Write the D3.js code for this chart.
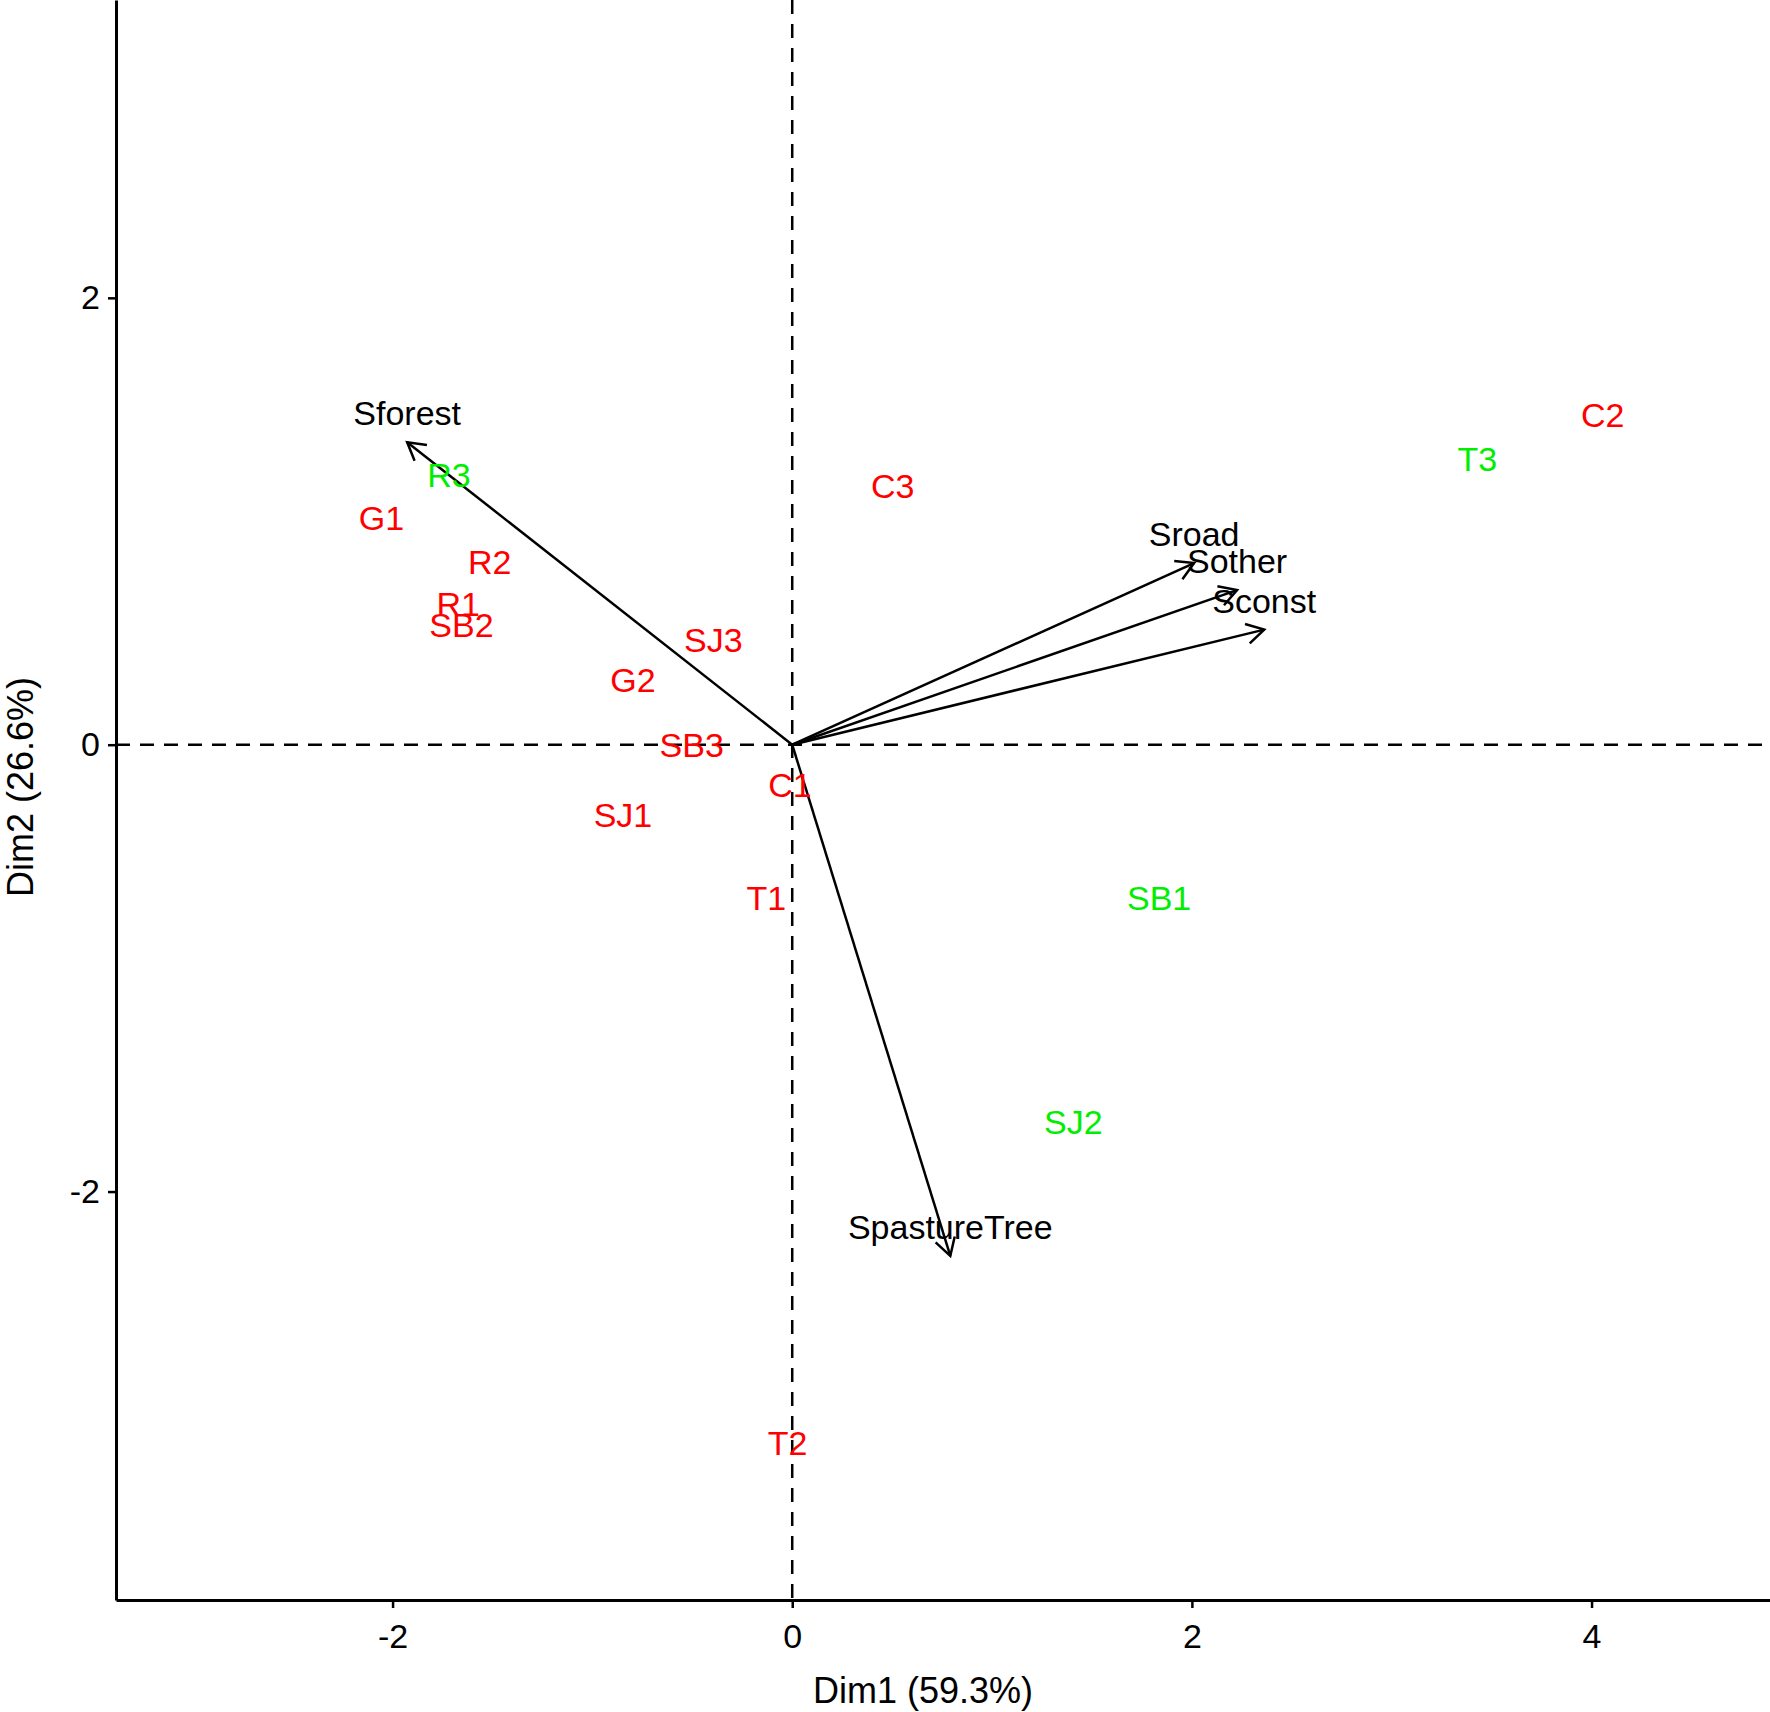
<!DOCTYPE html>
<html><head><meta charset="utf-8">
<script src="https://cdn.jsdelivr.net/npm/d3@7"></script>
<style>body{margin:0;background:#fff}svg{display:block}text{font-family:"Liberation Sans",Arial,sans-serif}</style>
</head><body>
<svg id="c" width="1770" height="1712"></svg>
<script>
// Individuals
const indNames = ["C2","T3","C3","R3","G1","R2","R1","SB2","SJ3","G2","SB3","C1","SJ1","T1","SB1","SJ2","T2"];
const indDim1  = [4.056,3.429,0.503,-1.718,-2.056,-1.514,-1.672,-1.655,-0.395,-0.797,-0.503,-0.011,-0.847,-0.130,1.836,1.407,-0.023];
const indDim2  = [1.475,1.278,1.157,1.207,1.015,0.818,0.631,0.535,0.470,0.288,0.000,-0.182,-0.313,-0.687,-0.687,-1.687,-3.126];
const indGroup = ["red","green","red","green","red","red","red","red","red","red","red","red","red","red","green","green","red"];
// Variables
const varNames = ["Sforest","Sroad","Sother","Sconst","SpastureTree"];
const varDim1  = [-1.927,2.011,2.226,2.362,0.791];
const varDim2  = [1.354,0.813,0.692,0.515,-2.288];
// Ticks
const xTicks = [-2,0,2,4];
const yTicks = [-2,0,2];
const xTitle = "Dim1 (59.3%)";
const yTitle = "Dim2 (26.6%)";

const groupColor = {red:"#FF0000", green:"#00EE00"};
const svg = d3.select("#c");
const L=116, R=1770, T=0, B=1600;
const x = d3.scaleLinear().domain([-3.384,4.893]).range([L,R]);
const y = d3.scaleLinear().domain([-3.828,3.333]).range([B,T]);

// dashed reference lines
svg.append("line").attr("x1",x(0)).attr("x2",x(0)).attr("y1",T).attr("y2",B)
  .attr("stroke","#000").attr("stroke-width",2.5).attr("stroke-dasharray","14,10");
svg.append("line").attr("x1",L).attr("x2",R).attr("y1",y(0)).attr("y2",y(0))
  .attr("stroke","#000").attr("stroke-width",2.5).attr("stroke-dasharray","14,10");

// axes
const fmt = d => String(d);
const gx = svg.append("g").attr("transform",`translate(0,${B})`)
  .call(d3.axisBottom(x).tickValues(xTicks).tickSize(8).tickSizeOuter(0).tickPadding(8).tickFormat(fmt));
const gy = svg.append("g").attr("transform",`translate(${L},0)`)
  .call(d3.axisLeft(y).tickValues(yTicks).tickSize(8).tickSizeOuter(0).tickPadding(8).tickFormat(fmt));
[gx,gy].forEach(g=>{
  g.select(".domain").attr("stroke","#000").attr("stroke-width",3);
  g.selectAll(".tick line").attr("stroke","#000").attr("stroke-width",2.5);
  g.selectAll(".tick text").attr("fill","#000").style("font-size","34px")
   .style("font-family","'Liberation Sans Narrow','Liberation Sans',Arial,sans-serif");
});
gx.selectAll(".tick text").attr("dy","0.95em");

// axis titles
svg.append("text").attr("x",(L+R)/2-20).attr("y",1690).attr("text-anchor","middle")
  .attr("dominant-baseline","central").style("font-size","36px").text(xTitle);
svg.append("text").attr("transform",`translate(20,${(T+B)/2-13}) rotate(-90)`).attr("text-anchor","middle")
  .attr("dominant-baseline","central").style("font-size","36px").text(yTitle);

// arrows
const vars = varNames.map((n,i)=>({n,a:varDim1[i],b:varDim2[i]}));
const ga = svg.append("g");
vars.forEach(v=>{
  const x0=x(0), y0=y(0), x1=x(v.a), y1=y(v.b);
  ga.append("line").attr("x1",x0).attr("y1",y0).attr("x2",x1).attr("y2",y1)
    .attr("stroke","#000").attr("stroke-width",2.5);
  const ang=Math.atan2(y1-y0,x1-x0), len=20, spread=Math.PI/6;
  const p1=[x1-len*Math.cos(ang-spread), y1-len*Math.sin(ang-spread)];
  const p2=[x1-len*Math.cos(ang+spread), y1-len*Math.sin(ang+spread)];
  ga.append("path").attr("d",`M${p1[0]},${p1[1]}L${x1},${y1}L${p2[0]},${p2[1]}`)
    .attr("fill","none").attr("stroke","#000").attr("stroke-width",2.5);
  ga.append("text").attr("x",x1).attr("y",y1-29).attr("text-anchor","middle")
    .attr("dominant-baseline","central").style("font-size","34px").attr("fill","#000").text(v.n);
});

// individuals
const inds = indNames.map((n,i)=>({n,a:indDim1[i],b:indDim2[i],g:indGroup[i]}));
svg.append("g").selectAll("text").data(inds).join("text")
  .attr("x",d=>x(d.a)).attr("y",d=>y(d.b)).attr("text-anchor","middle")
  .attr("dominant-baseline","central").style("font-size","34px")
  .attr("fill",d=>groupColor[d.g]).text(d=>d.n);
</script>
</body></html>
